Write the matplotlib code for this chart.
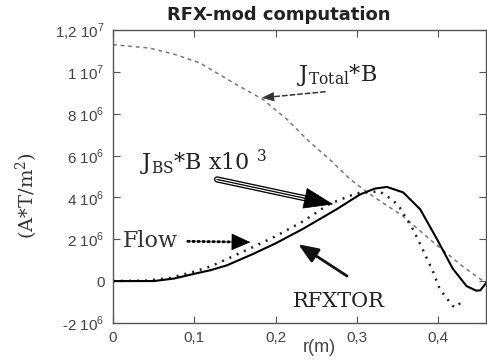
import numpy as np
import matplotlib
matplotlib.use('Agg')
import matplotlib.pyplot as plt

plt.rcParams['font.family'] = ['Liberation Sans', 'DejaVu Sans']
plt.rcParams['mathtext.fontset'] = 'custom'
plt.rcParams['mathtext.rm'] = 'DejaVu Serif'
plt.rcParams['mathtext.sf'] = 'Liberation Sans'

# RFXTOR (solid), values in A*T/m^2 (x1e6)
r_rfxtor = [0, 0.05, 0.075, 0.098, 0.12, 0.14, 0.172, 0.20, 0.234, 0.275, 0.304,
            0.322, 0.337, 0.357, 0.378, 0.398, 0.418, 0.435, 0.447, 0.452, 0.459]
v_rfxtor = [0, 0, 0.12, 0.33, 0.52, 0.75, 1.29, 1.8, 2.5, 3.43, 4.14,
            4.42, 4.5, 4.24, 3.43, 2.05, 0.6, -0.24, -0.46, -0.44, -0.1]

# Flow (dotted)
r_flow = [0, 0.04, 0.07, 0.098, 0.12, 0.14, 0.172, 0.20, 0.234, 0.267, 0.30,
          0.328, 0.345, 0.353, 0.369, 0.381, 0.394, 0.402, 0.418, 0.423, 0.429]
v_flow = [0, 0.02, 0.15, 0.43, 0.7, 1.05, 1.62, 2.14, 2.86, 3.7, 4.2,
          4.29, 3.85, 3.5, 2.48, 1.52, 0.43, -0.38, -1.19, -1.25, -0.95]

# J_Total*B (dashed)
r_total = [0, 0.045, 0.075, 0.107, 0.148, 0.185, 0.215, 0.239, 0.267, 0.292,
           0.32, 0.357, 0.394, 0.43, 0.459]
v_total = [11.3, 11.14, 10.85, 10.43, 9.48, 8.67, 7.7, 6.76, 5.8, 4.86,
           4.05, 3.1, 1.86, 0.71, -0.1]

xticks = [0, 0.1, 0.2, 0.3, 0.4]
xticklabels = ['0', '0,1', '0,2', '0,3', '0,4']
yticks = [-2e6, 0, 2e6, 4e6, 6e6, 8e6, 1e7, 1.2e7]
yticklabels = [r'-2 10$^{\mathsf{6}}$', '0', r'2 10$^{\mathsf{6}}$', r'4 10$^{\mathsf{6}}$',
               r'6 10$^{\mathsf{6}}$', r'8 10$^{\mathsf{6}}$', r'1 10$^{\mathsf{7}}$',
               r'1,2 10$^{\mathsf{7}}$']

fig = plt.figure(figsize=(4.87, 3.62), dpi=100)
ax = fig.add_axes([0.232, 0.108, 0.766, 0.809])

ax.plot(r_total, np.array(v_total) * 1e6, color='#777777', lw=1.1, ls=(0, (2.5, 2.5)))
ax.plot(r_flow, np.array(v_flow) * 1e6, color='#222222', lw=1.8, ls=(0, (0.8, 2.4)))
ax.plot(r_rfxtor, np.array(v_rfxtor) * 1e6, color='black', lw=1.5)

ax.set_xlim(0, 0.459)
ax.set_ylim(-2e6, 1.2e7)
ax.set_xticks(xticks)
ax.set_xticklabels(xticklabels)
ax.set_yticks(yticks)
ax.set_yticklabels(yticklabels)
ax.tick_params(direction='in', top=True, right=True, length=5, width=0.8,
               labelsize=11, labelcolor='#444444', color='#555555', pad=6)
for s in ax.spines.values():
    s.set_color('#555555')
    s.set_linewidth(1.0)

serif = ['DejaVu Serif']

# J_Total*B label
ax.text(0.226, 9.86e6, r'J$_{\rm Total}$*B', family=serif, fontsize=16,
        ha='left', va='center', color='#222222')
ax.annotate('', xy=(0.183, 8.76e6), xytext=(0.261, 9.05e6),
            arrowprops=dict(arrowstyle='-', color='#333333', lw=1.1,
                            ls=(0, (3, 2)), shrinkA=0, shrinkB=4))
ax.annotate('', xy=(0.183, 8.76e6), xytext=(0.2, 8.82e6),
            arrowprops=dict(arrowstyle='-|>,head_length=0.8,head_width=0.3',
                            color='#333333', lw=0.5, mutation_scale=10,
                            shrinkA=0, shrinkB=0))

# J_BS*B label with triple-line arrow
ax.text(0.033, 5.67e6, r'J$_{\rm BS}$*B x10 $^{3}$', family=serif, fontsize=16,
        ha='left', va='center', color='#222222')
p0 = (0.128, 4.86e6)
p1 = (0.271, 3.67e6)
ph = (p0[0] + 0.8 * (p1[0] - p0[0]), p0[1] + 0.8 * (p1[1] - p0[1]))
for lw, col in [(4.5, 'black'), (2.6, 'white'), (0.9, 'black')]:
    ax.annotate('', xy=p1, xytext=p0,
                arrowprops=dict(arrowstyle='-', color=col, lw=lw,
                                shrinkA=0, shrinkB=15))
ax.annotate('', xy=p1, xytext=ph,
            arrowprops=dict(arrowstyle='-|>,head_length=1.0,head_width=0.36',
                            color='black', lw=0.5, mutation_scale=20,
                            shrinkA=0, shrinkB=0))

# Flow label with dotted arrow
ax.text(0.012, 1.9e6, 'Flow', family=serif, fontsize=16,
        ha='left', va='center', color='#333333')
ax.annotate('', xy=(0.169, 1.86e6), xytext=(0.092, 1.9e6),
            arrowprops=dict(arrowstyle='-', color='black', lw=2.0,
                            ls=(0, (0.6, 1.2)), shrinkA=0, shrinkB=8))
ax.annotate('', xy=(0.169, 1.86e6), xytext=(0.15, 1.87e6),
            arrowprops=dict(arrowstyle='-|>,head_length=0.9,head_width=0.4',
                            color='black', lw=0.5, mutation_scale=14,
                            shrinkA=0, shrinkB=0))

# RFXTOR label
ax.text(0.221, -1.0e6, 'RFXTOR', family=serif, fontsize=15,
        ha='left', va='center', color='#222222')
ax.annotate('', xy=(0.228, 1.76e6), xytext=(0.288, 0.24e6),
            arrowprops=dict(arrowstyle='-|>,head_length=1.0,head_width=0.4',
                            color='#111111', lw=2.0, mutation_scale=12,
                            shrinkA=0, shrinkB=0))

fig.text(279 / 487, 1 - 15 / 362, 'RFX-mod computation', fontsize=13,
         family=['DejaVu Sans'], fontweight='bold', ha='center', va='center',
         color='#222222')
fig.text(319 / 487, 1 - 348 / 362, 'r(m)', fontsize=13, ha='center', va='center',
         color='#444444')
fig.text(27 / 487, 1 - 196 / 362, r'(A*T/m$^{2}$)', family=serif, fontsize=14,
         rotation=90, ha='center', va='center', color='#333333')

fig.savefig('out.png', dpi=100)
